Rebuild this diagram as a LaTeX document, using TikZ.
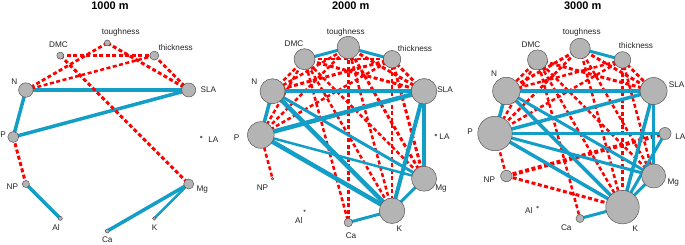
\documentclass[tikz,border=0pt]{standalone}
\usepackage{fontspec}
\setmainfont{Liberation Sans}
\usetikzlibrary{calc,backgrounds}
\definecolor{eblue}{RGB}{18,158,198}
\definecolor{ered}{RGB}{255,0,0}
\definecolor{vfill}{RGB}{180,180,180}
\definecolor{vline}{RGB}{85,85,85}
\definecolor{ltext}{RGB}{35,35,35}
\begin{document}
\begin{tikzpicture}[x=1pt,y=1pt,
  vtx/.style={circle,draw=vline,fill=vfill,line width=0.5pt,inner sep=0pt,minimum size=#1},
  vtx/.default=4pt,
  lbl/.style={font=\fontsize{8.2}{9}\selectfont,text=ltext,inner sep=0pt},
  ttl/.style={font=\bfseries\fontsize{11}{13}\selectfont,inner sep=0pt},
  poslink/.style={draw=eblue,line width=#1},
  poslink/.default=3pt,
  neglink/.style={draw=ered,line width=#1,dash pattern=on 4pt off 2.5pt},
  neglink/.default=2.6pt]
\useasboundingbox (0,0) rectangle (685,245);
\coordinate (c1) at (107.3,108);
\coordinate (c2) at (348.3,110);
\coordinate (c3) at (580,111.5);
% titles
\node[ttl] (t1) at (110,239) {1000 m};
\node[ttl] (t2) at (350.7,239) {2000 m};
\node[ttl] (t3) at (582.7,239) {3000 m};
% ---------- panel 1 nodes
\node[vtx=6pt]    (aT)  at ($(c1)+(90:94pt)$) {};
\node[vtx=9pt]    (aH)  at ($(c1)+(60:94pt)$) {};
\node[vtx=14pt]   (aS)  at ($(c1)+(30:94pt)$) {};
\node[vtx=2pt]    (aLA) at ($(c1)+(0:94pt)$) {};
\node[vtx=10pt]   (aMg) at ($(c1)+(-30:94pt)$) {};
\node[vtx=3.5pt]  (aK)  at ($(c1)+(-60:94pt)$) {};
\node[vtx=4pt]    (aCa) at ($(c1)+(-90:94pt)$) {};
\node[vtx=4pt]    (aAl) at ($(c1)+(-120:94pt)$) {};
\node[vtx=7pt]    (aNP) at ($(c1)+(-150:94pt)$) {};
\node[vtx=11pt]   (aP)  at ($(c1)+(180:94pt)$) {};
\node[vtx=14.5pt] (aN)  at ($(c1)+(150:94pt)$) {};
\node[vtx=7pt]    (aD)  at ($(c1)+(120:94pt)$) {};
% ---------- panel 2 nodes
\node[vtx=22.5pt] (bT)  at ($(c2)+(90:87.5pt)$) {};
\node[vtx=17.5pt] (bH)  at ($(c2)+(60:87.5pt)$) {};
\node[vtx=25.5pt] (bS)  at ($(c2)+(30:87.5pt)$) {};
\node[vtx=2pt]    (bLA) at ($(c2)+(0:87.5pt)$) {};
\node[vtx=25pt]   (bMg) at ($(c2)+(-30:87.5pt)$) {};
\node[vtx=25.5pt] (bK)  at ($(c2)+(-60:87.5pt)$) {};
\node[vtx=8.5pt]  (bCa) at ($(c2)+(-90:87.5pt)$) {};
\node[vtx=1.6pt]  (bAl) at ($(c2)+(-120:87.5pt)$) {};
\node[vtx=2.5pt]  (bNP) at ($(c2)+(-150:87.5pt)$) {};
\node[vtx=26.6pt] (bP)  at ($(c2)+(180:87.5pt)$) {};
\node[vtx=25pt]   (bN)  at ($(c2)+(150:87.5pt)$) {};
\node[vtx=21pt]   (bD)  at ($(c2)+(120:87.5pt)$) {};
% ---------- panel 3 nodes
\node[vtx=20.5pt] (cT)  at ($(c3)+(90:85pt)$) {};
\node[vtx=16.5pt] (cH)  at ($(c3)+(60:85pt)$) {};
\node[vtx=27pt]   (cS)  at ($(c3)+(30:85pt)$) {};
\node[vtx=12pt]   (cLA) at ($(c3)+(0:85pt)$) {};
\node[vtx=24pt]   (cMg) at ($(c3)+(-30:85pt)$) {};
\node[vtx=33.5pt] (cK)  at ($(c3)+(-60:85pt)$) {};
\node[vtx=8pt]    (cCa) at ($(c3)+(-90:85pt)$) {};
\node[vtx=2pt]    (cAl) at ($(c3)+(-120:85pt)$) {};
\node[vtx=11.5pt] (cNP) at ($(c3)+(-150:85pt)$) {};
\node[vtx=34.5pt] (cP)  at ($(c3)+(180:85pt)$) {};
\node[vtx=27.5pt] (cN)  at ($(c3)+(150:85pt)$) {};
\node[vtx=20pt]   (cD)  at ($(c3)+(120:85pt)$) {};
% ---------- edges (behind nodes)
\begin{scope}[on background layer]
% panel 1
\draw[poslink=4.5pt] (aN.center) -- (aS.center);
\draw[poslink=3.5pt] (aP.center) -- (aS.center);
\draw[poslink=3.5pt] (aN.center) -- (aP.center);
\draw[poslink=3.5pt] (aNP.center) -- (aAl.center);
\draw[poslink=3.5pt] (aMg.center) -- (aCa.center);
\draw[poslink=2.5pt] (aMg.center) -- (aK.center);
\draw[neglink=3pt] (aD.center) -- (aH.center);
\draw[neglink=3pt] (aD.center) -- (aMg.center);
\draw[neglink=2.8pt] (aT.center) -- (aN.center);
\draw[neglink=3pt] (aT.center) -- (aS.center);
\draw[neglink=2.5pt] (aH.center) -- (aN.center);
\draw[neglink=2.8pt] (aH.center) -- (aS.center);
\draw[neglink=3pt] (aP.center) -- (aNP.center);
% panel 2
\draw[neglink=2.5pt] (bD.center) -- (bN.center);
\draw[neglink=2.5pt] (bD.center) -- (bP.center);
\draw[neglink=3pt] (bD.center) -- (bS.center);
\draw[neglink=2.5pt] (bD.center) -- (bH.center);
\draw[neglink=2.5pt] (bT.center) -- (bN.center);
\draw[neglink=2.5pt] (bT.center) -- (bP.center);
\draw[neglink=3pt] (bT.center) -- (bS.center);
\draw[neglink=3pt] (bH.center) -- (bN.center);
\draw[neglink=2.5pt] (bH.center) -- (bP.center);
\draw[neglink=3pt] (bH.center) -- (bS.center);
\draw[neglink=2.5pt] (bD.center) -- (bCa.center);
\draw[neglink=2.5pt] (bT.center) -- (bCa.center);
\draw[neglink=2.5pt] (bD.center) -- (bK.center);
\draw[neglink=2.5pt] (bT.center) -- (bK.center);
\draw[neglink=2.5pt] (bH.center) -- (bK.center);
\draw[neglink=2.5pt] (bD.center) -- (bMg.center);
\draw[neglink=3pt] (bT.center) -- (bMg.center);
\draw[neglink=3pt] (bH.center) -- (bMg.center);
\draw[neglink=2.5pt] (bP.center) -- (bNP.center);
\draw[poslink=3pt] (bD.center) -- (bT.center);
\draw[poslink=3pt] (bT.center) -- (bH.center);
\draw[poslink=4pt] (bN.center) -- (bS.center);
\draw[poslink=3.5pt] (bN.center) -- (bP.center);
\draw[poslink=4.5pt] (bP.center) -- (bS.center);
\draw[poslink=4pt] (bS.center) -- (bK.center);
\draw[poslink=3.5pt] (bS.center) -- (bMg.center);
\draw[poslink=3pt] (bN.center) -- (bMg.center);
\draw[poslink=4.5pt] (bN.center) -- (bK.center);
\draw[poslink=2.5pt] (bP.center) -- (bMg.center);
\draw[poslink=4.5pt] (bP.center) -- (bK.center);
\draw[poslink=3pt] (bMg.center) -- (bK.center);
\draw[poslink=3pt] (bK.center) -- (bCa.center);
% panel 3
\draw[neglink=2.5pt] (cD.center) -- (cN.center);
\draw[neglink=2.5pt] (cD.center) -- (cP.center);
\draw[neglink=3pt] (cD.center) -- (cS.center);
\draw[neglink=3pt] (cT.center) -- (cN.center);
\draw[neglink=2.5pt] (cT.center) -- (cP.center);
\draw[neglink=3pt] (cT.center) -- (cS.center);
\draw[neglink=2.5pt] (cH.center) -- (cN.center);
\draw[neglink=2.5pt] (cH.center) -- (cP.center);
\draw[neglink=3pt] (cH.center) -- (cS.center);
\draw[neglink=2.5pt] (cD.center) -- (cK.center);
\draw[neglink=2.5pt] (cT.center) -- (cK.center);
\draw[neglink=2.5pt] (cH.center) -- (cK.center);
\draw[neglink=2.5pt] (cD.center) -- (cMg.center);
\draw[neglink=2.5pt] (cT.center) -- (cMg.center);
\draw[neglink=2.5pt] (cH.center) -- (cMg.center);
\draw[neglink=2.5pt] (cD.center) -- (cCa.center);
\draw[neglink=2.5pt] (cP.center) -- (cNP.center);
\draw[neglink=4pt] (cNP.center) -- (cLA.center);
\draw[neglink=3pt] (cNP.center) -- (cK.center);
\draw[poslink=3pt] (cT.center) -- (cH.center);
\draw[poslink=4.5pt] (cN.center) -- (cS.center);
\draw[poslink=3.5pt] (cN.center) -- (cP.center);
\draw[poslink=3.5pt] (cP.center) -- (cS.center);
\draw[poslink=3.5pt] (cP.center) -- (cLA.center);
\draw[poslink=3.5pt] (cS.center) -- (cK.center);
\draw[poslink=3pt] (cS.center) -- (cMg.center);
\draw[poslink=3pt] (cLA.center) -- (cK.center);
\draw[poslink=3pt] (cN.center) -- (cMg.center);
\draw[poslink=3.5pt] (cN.center) -- (cK.center);
\draw[poslink=3pt] (cP.center) -- (cMg.center);
\draw[poslink=3.5pt] (cP.center) -- (cK.center);
\draw[poslink=3pt] (cMg.center) -- (cK.center);
\draw[poslink=3pt] (cK.center) -- (cCa.center);
\end{scope}
% ---------- labels panel 1
\node[lbl] (aTl)  at (120.7,212.7) {toughness};
\node[lbl] (aDl)  at (58.5,200) {DMC};
\node[lbl] (aHl)  at (175.7,197) {thickness};
\node[lbl] (aNl)  at (14.3,163.3) {N};
\node[lbl] (aSl)  at (208.3,155) {SLA};
\node[lbl] (aPl)  at (3,110) {P};
\node[lbl] (aLAl) at (213.3,105.7) {LA};
\node[lbl] (aNPl) at (12.3,58.3) {NP};
\node[lbl] (aMgl) at (202.3,55.7) {Mg};
\node[lbl] (aAll) at (56,17) {Al};
\node[lbl] (aKl)  at (154.7,17.3) {K};
\node[lbl] (aCal) at (107.3,5.7) {Ca};
% ---------- labels panel 2
\node[lbl] (bTl)  at (345.7,212.7) {toughness};
\node[lbl] (bDl)  at (294,201) {DMC};
\node[lbl] (bHl)  at (415,196.7) {thickness};
\node[lbl] (bNl)  at (254.3,163.3) {N};
\node[lbl] (bSl)  at (445,155) {SLA};
\node[lbl] (bPl)  at (236.7,107.3) {P};
\node[lbl] (bLAl) at (444.5,108.3) {LA};
\node[lbl] (bNPl) at (262.5,57.3) {NP};
\node[lbl] (bMgl) at (441,56.3) {Mg};
\node[lbl] (bKl)  at (399.3,16.3) {K};
\node[lbl] (bCal) at (351,9.7) {Ca};
\node[lbl] (bAll) at (298.7,24.5) {Al};
% ---------- labels panel 3
\node[lbl] (cTl)  at (581.7,212.7) {toughness};
\node[lbl] (cDl)  at (531,200.5) {DMC};
\node[lbl] (cHl)  at (636,199.3) {thickness};
\node[lbl] (cNl)  at (494.2,171) {N};
\node[lbl] (cSl)  at (676.7,160) {SLA};
\node[lbl] (cPl)  at (470,113.3) {P};
\node[lbl] (cLAl) at (680.3,108) {LA};
\node[lbl] (cNPl) at (489.3,65.8) {NP};
\node[lbl] (cMgl) at (673.3,62) {Mg};
\node[lbl] (cKl)  at (635.3,16.3) {K};
\node[lbl] (cCal) at (566.3,17.5) {Ca};
\node[lbl] (cAll) at (528.7,34.2) {Al};
\end{tikzpicture}
\end{document}
